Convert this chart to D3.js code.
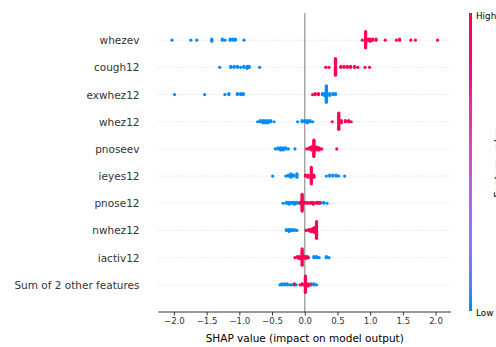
<!DOCTYPE html>
<html>
<head>
<meta charset="utf-8">
<script src="https://cdn.jsdelivr.net/npm/d3@7"></script>
<style>
  body { margin: 0; background: #fff; }
  svg { display: block; font-family: "DejaVu Sans", sans-serif; }
</style>
</head>
<body>
<div id="chart"></div>
<script>
// feature names, top to bottom
const features = ["whezev", "cough12", "exwhez12", "whez12", "pnoseev",
    "ieyes12", "pnose12", "nwhez12", "iactiv12", "Sum of 2 other features"];
const xTicks = [-2.0, -1.5, -1.0, -0.5, 0.0, 0.5, 1.0, 1.5, 2.0];

// [shap value, how many points share it]
const whezevLow = [[-2.03, 1], [-1.74, 1], [-1.65, 1], [-1.42, 3], [-1.26, 2], [-1.22, 1],
    [-1.14, 2], [-1.10, 2], [-1.06, 2], [-0.93, 1]];
const whezevHigh = [[0.88, 1], [0.93, 16], [0.97, 2], [1.00, 3], [1.04, 2], [1.09, 2],
    [1.23, 1], [1.40, 1], [1.45, 2], [1.62, 1], [1.69, 1], [2.03, 1]];

const cough12Low = [[-1.30, 1], [-1.13, 2], [-1.08, 2], [-1.03, 2], [-0.98, 1], [-0.93, 2],
    [-0.88, 3], [-0.85, 2], [-0.69, 1]];
const cough12High = [[0.32, 1], [0.37, 1], [0.47, 18], [0.55, 2], [0.60, 2], [0.65, 2],
    [0.70, 2], [0.76, 2], [0.81, 1], [0.92, 1], [0.99, 1]];

const exwhez12Low = [[-1.99, 1], [-1.53, 1], [-1.22, 1], [-1.16, 2], [-1.03, 2], [-0.98, 2],
    [-0.94, 2], [0.27, 2], [0.30, 3], [0.33, 18], [0.38, 3], [0.43, 2], [0.47, 2]];
const exwhez12High = [[0.12, 1], [0.16, 2], [0.21, 2]];

const whez12Low = [[-0.72, 1], [-0.68, 2], [-0.64, 3], [-0.60, 3], [-0.56, 3], [-0.52, 2],
    [-0.47, 1], [-0.11, 1], [-0.04, 2], [0.00, 2], [0.04, 3], [0.08, 2], [0.12, 1]];
const whez12High = [[0.42, 1], [0.52, 16], [0.56, 3], [0.62, 2], [0.67, 2], [0.71, 1]];

const pnoseevLow = [[-0.45, 1], [-0.41, 2], [-0.37, 3], [-0.33, 3], [-0.29, 2], [-0.25, 1],
    [-0.15, 1]];
const pnoseevHigh = [[0.03, 1], [0.07, 2], [0.10, 4], [0.14, 16], [0.18, 4], [0.22, 3],
    [0.26, 1], [0.49, 1]];

const ieyes12Low = [[-0.49, 1], [-0.29, 1], [-0.25, 2], [-0.21, 4], [-0.17, 2], [-0.12, 4],
    [0.33, 1], [0.38, 2], [0.43, 2], [0.48, 2], [0.52, 1], [0.61, 1]];
const ieyes12High = [[0.01, 2], [0.05, 3], [0.10, 16], [0.14, 3]];

const pnose12Low = [[-0.33, 1], [-0.28, 2], [-0.24, 3], [-0.20, 2], [-0.16, 3], [-0.12, 2],
    [-0.08, 1], [0.06, 1], [0.20, 2], [0.24, 2], [0.29, 2], [0.34, 1]];
const pnose12High = [[-0.07, 2], [-0.04, 18], [0.00, 2], [0.04, 2], [0.09, 2], [0.13, 3],
    [0.18, 2], [0.22, 2]];

const nwhez12Low = [[-0.28, 2], [-0.24, 3], [-0.20, 2], [-0.16, 2], [-0.12, 1], [0.10, 2]];
const nwhez12High = [[0.02, 1], [0.06, 2], [0.09, 3], [0.12, 4], [0.15, 6], [0.18, 18]];

const iactiv12Low = [[-0.02, 2], [0.02, 3], [0.06, 1], [0.14, 2], [0.18, 2], [0.22, 1],
    [0.33, 2], [0.37, 1]];
const iactiv12High = [[-0.15, 1], [-0.11, 2], [-0.08, 3], [-0.04, 16], [0.00, 2], [0.04, 2]];

const otherLow = [[-0.38, 1], [-0.35, 2], [-0.31, 2], [-0.27, 2], [-0.23, 1], [-0.20, 1],
    [-0.13, 1], [0.00, 3], [0.05, 1], [0.10, 2], [0.14, 2], [0.18, 1]];
const otherHigh = [[-0.16, 2], [-0.07, 1], [-0.04, 2], [0.01, 16], [0.05, 2], [0.08, 1]];

const lowSets = [whezevLow, cough12Low, exwhez12Low, whez12Low, pnoseevLow,
    ieyes12Low, pnose12Low, nwhez12Low, iactiv12Low, otherLow];
const highSets = [whezevHigh, cough12High, exwhez12High, whez12High, pnoseevHigh,
    ieyes12High, pnose12High, nwhez12High, iactiv12High, otherHigh];

const width = 496;
const height = 347;
const plot = { left: 158.5, right: 451, top: 13, bottom: 312 };

const svg = d3.select("#chart")
    .append("svg")
    .attr("width", width)
    .attr("height", height);

const x = d3.scaleLinear().domain([-2.235, 2.235]).range([plot.left, plot.right]);
// row index counted from the bottom, like the original plot
const y = d3.scaleLinear().domain([-1, features.length]).range([plot.bottom, plot.top]);

// shap's red_blue colormap
const cmap = d3.interpolateHcl("#008bfb", "#ff0052");

// beeswarm layout: bin the values, stack each bin up and down
function swarm(points) {
    const lo = d3.min(points, p => p.v);
    const hi = d3.max(points, p => p.v);
    const nbins = 100;
    points.forEach(p => p.q = Math.round(nbins * (p.v - lo) / (hi - lo + 1e-8)));
    const order = points.map((p, i) => i).sort((a, b) => points[a].q - points[b].q || a - b);
    let layer = 0, last = -1;
    order.forEach(i => {
        const p = points[i];
        if (p.q !== last) layer = 0;
        p.dy = Math.ceil(layer / 2) * ((layer % 2) * 2 - 1);
        layer++;
        last = p.q;
    });
    const m = d3.max(points, p => p.dy + 1);
    points.forEach(p => p.dy *= 0.9 * (0.4 / m));
    return points;
}

const rows = features.map((name, i) => {
    const pts = [];
    lowSets[i].forEach(([v, n]) => { for (let k = 0; k < n; k++) pts.push({ v, c: 0 }); });
    highSets[i].forEach(([v, n]) => { for (let k = 0; k < n; k++) pts.push({ v, c: 1 }); });
    return { name, pos: features.length - 1 - i, points: swarm(pts) };
});

// dotted row guides
svg.append("g")
    .selectAll("line")
    .data(rows)
    .enter().append("line")
    .attr("x1", plot.left)
    .attr("x2", plot.right)
    .attr("y1", d => y(d.pos))
    .attr("y2", d => y(d.pos))
    .attr("stroke", "#cccccc")
    .attr("stroke-width", 0.7)
    .attr("stroke-dasharray", "1,2");

// zero line
svg.append("line")
    .attr("x1", x(0)).attr("x2", x(0))
    .attr("y1", plot.top).attr("y2", plot.bottom)
    .attr("stroke", "#999999")
    .attr("stroke-width", 1.3);

// points
const dots = svg.append("g");
rows.forEach(row => {
    dots.selectAll(null)
        .data(row.points)
        .enter().append("circle")
        .attr("cx", d => x(d.v))
        .attr("cy", d => y(row.pos + d.dy))
        .attr("r", 1.6)
        .attr("fill", d => cmap(d.c));
});

// feature labels
svg.append("g")
    .selectAll("text")
    .data(rows)
    .enter().append("text")
    .attr("x", 139.5)
    .attr("y", d => y(d.pos) + 4)
    .attr("text-anchor", "end")
    .style("font-size", "10.5px")
    .style("fill", "#333333")
    .text(d => d.name);

// x axis
const xAxis = svg.append("g")
    .attr("transform", `translate(0,${plot.bottom})`)
    .call(d3.axisBottom(x).tickValues(xTicks).tickSize(3.5).tickPadding(2.5)
        .tickFormat(d3.format(".1f")));
xAxis.select(".domain").attr("stroke", "#333333").attr("d", `M${plot.left},0H${plot.right}`);
xAxis.selectAll(".tick line").attr("stroke", "#333333");
xAxis.selectAll(".tick text")
    .style("font-size", "8.6px")
    .style("font-family", "DejaVu Sans")
    .style("fill", "#333333");

svg.append("text")
    .attr("x", (plot.left + plot.right) / 2)
    .attr("y", 342)
    .attr("text-anchor", "middle")
    .style("font-size", "10.5px")
    .style("fill", "#000")
    .text("SHAP value (impact on model output)");

// colour bar
const grad = svg.append("defs").append("linearGradient")
    .attr("id", "cbar")
    .attr("x1", 0).attr("y1", 1).attr("x2", 0).attr("y2", 0);
d3.range(0, 1.0001, 0.1).forEach(t => {
    grad.append("stop").attr("offset", t).attr("stop-color", cmap(t));
});
svg.append("rect")
    .attr("x", 469)
    .attr("y", plot.top)
    .attr("width", 3)
    .attr("height", plot.bottom - plot.top - 1)
    .attr("fill", "url(#cbar)");

svg.append("text")
    .attr("x", 476).attr("y", 18.5)
    .style("font-size", "8.8px")
    .text("High");
svg.append("text")
    .attr("x", 476).attr("y", 316)
    .style("font-size", "8.8px")
    .text("Low");
svg.append("text")
    .attr("transform", "translate(502,162) rotate(-90)")
    .attr("text-anchor", "middle")
    .style("font-size", "10.5px")
    .text("Feature value");
</script>
</body>
</html>
